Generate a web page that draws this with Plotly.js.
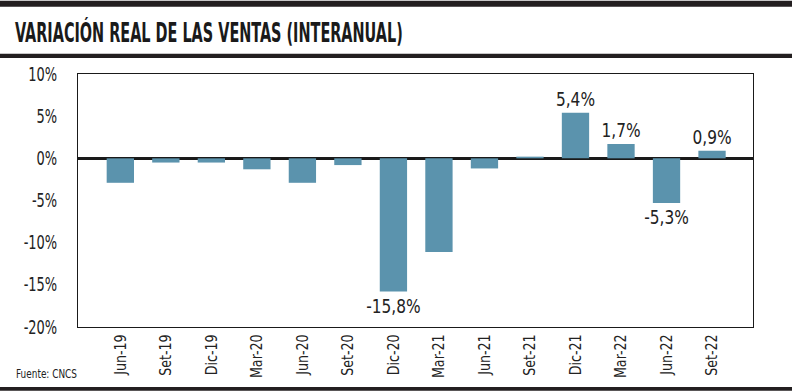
<!DOCTYPE html>
<html><head><meta charset="utf-8">
<script src="https://cdn.plot.ly/plotly-3.0.1.min.js"></script>
<style>html,body{margin:0;padding:0;background:#fff;}#chart{width:792px;height:391px;}</style>
</head><body><div id="chart"></div>
<script>
const categories = ["Jun-19","Set-19","Dic-19","Mar-20","Jun-20","Set-20","Dic-20","Mar-21","Jun-21","Set-21","Dic-21","Mar-22","Jun-22","Set-22"];
const values = [-2.9,-0.5,-0.5,-1.3,-2.9,-0.8,-15.8,-11.1,-1.2,0.2,5.4,1.7,-5.3,0.9];
const labels = ["","","","","","","-15,8%","","","","5,4%","1,7%","-5,3%","0,9%"];
const yTicks = [10,5,0,-5,-10,-15,-20];
const yTickText = ["10%","5%","0%","-5%","-10%","-15%","-20%"];

const W=792,H=391,L=78,R=753,T=73.5,B=327;
const pw=R-L, ph=B-T;
const px=x=>(x-L)/pw, py=y=>(B-y)/ph;
const cond = "'DejaVu Sans Condensed', 'Liberation Sans Narrow', sans-serif";

const trace = {
  type:'bar', x:categories, y:values, width:0.6,
  marker:{color:'#5b93ad'},
  text:labels, textposition:'outside', cliponaxis:false, constraintext:'none',
  textfont:{family:cond, size:19, color:'#222'},
  hoverinfo:'skip'
};
const layout = {
  width:W, height:H, margin:{l:L,r:W-R,t:T,b:H-B,pad:0},
  paper_bgcolor:'#fff', plot_bgcolor:'#fff',
  separators:',.',
  showlegend:false,
  title:{text:'<b>VARIACIÓN REAL DE LAS VENTAS (INTERANUAL)</b>', x:15/W, xanchor:'left', y:1-32.8/H, yanchor:'middle',
    font:{family:cond, size:26, color:'#1a1a1a'}},
  xaxis:{range:[-0.93,13.9], tickangle:-90, showgrid:false, zeroline:false, showline:true, mirror:true, linecolor:'#1a1a1a', linewidth:1,
    ticks:'', tickfont:{family:cond, size:16, color:'#222'}, fixedrange:true, automargin:false},
  yaxis:{range:[-20,10], tickvals:yTicks, ticktext:yTickText, showgrid:false, zeroline:true, zerolinecolor:'#1a1a1a', zerolinewidth:2.5,
    showline:true, mirror:true, linecolor:'#1a1a1a', linewidth:1, ticks:'', ticklabelstandoff:16,
    tickfont:{family:cond, size:19, color:'#222'}, fixedrange:true, automargin:false},
  shapes:[
    {type:'rect', xref:'paper', yref:'paper', x0:px(0), x1:px(W), y0:py(0), y1:py(6), fillcolor:'#231f20', line:{width:0}},
    {type:'rect', xref:'paper', yref:'paper', x0:px(0), x1:px(W), y0:py(53.3), y1:py(57.5), fillcolor:'#231f20', line:{width:0}},
    {type:'rect', xref:'paper', yref:'paper', x0:px(0), x1:px(W), y0:py(387), y1:py(391), fillcolor:'#231f20', line:{width:0}}
  ],
  annotations:[
    {text:'Fuente: CNCS', xref:'paper', yref:'paper', x:px(14), y:py(374), xanchor:'left', yanchor:'middle', showarrow:false,
     font:{family:cond, size:13, color:'#222'}}
  ]
};

// horizontally condense a text element about a local anchor point (narrow newspaper typeface)
function squeeze(el, s, ax, ay){
  const prev = el.getAttribute('transform') || '';
  el.setAttribute('transform', `${prev} translate(${ax},${ay}) scale(${s},1) translate(${-ax},${-ay})`);
}

Plotly.newPlot('chart',[trace],layout,{displayModeBar:false,staticPlot:true}).then(gd=>{
  const t = gd.querySelector('.gtitle');
  if(t){ const bb=t.getBBox(); squeeze(t, 388/bb.width, bb.x, 0); }
  gd.querySelectorAll('.ytick text').forEach(el=>{
    const x=+el.getAttribute('x'), y=+el.getAttribute('y');
    squeeze(el, 0.76, x, y);
  });
  gd.querySelectorAll('.xtick text').forEach(el=>{
    const x=+el.getAttribute('x'), y=+el.getAttribute('y');
    squeeze(el, 0.88, x, y);
  });
  gd.querySelectorAll('.annotation-text').forEach(el=>{
    const bb=el.getBBox(); squeeze(el, 61/bb.width, bb.x, 0);
  });
  gd.querySelectorAll('.bartext').forEach(el=>{
    const bb=el.getBBox(); const cx=bb.x+bb.width/2; squeeze(el, 0.9, cx, 0);
  });
});
</script></body></html>
